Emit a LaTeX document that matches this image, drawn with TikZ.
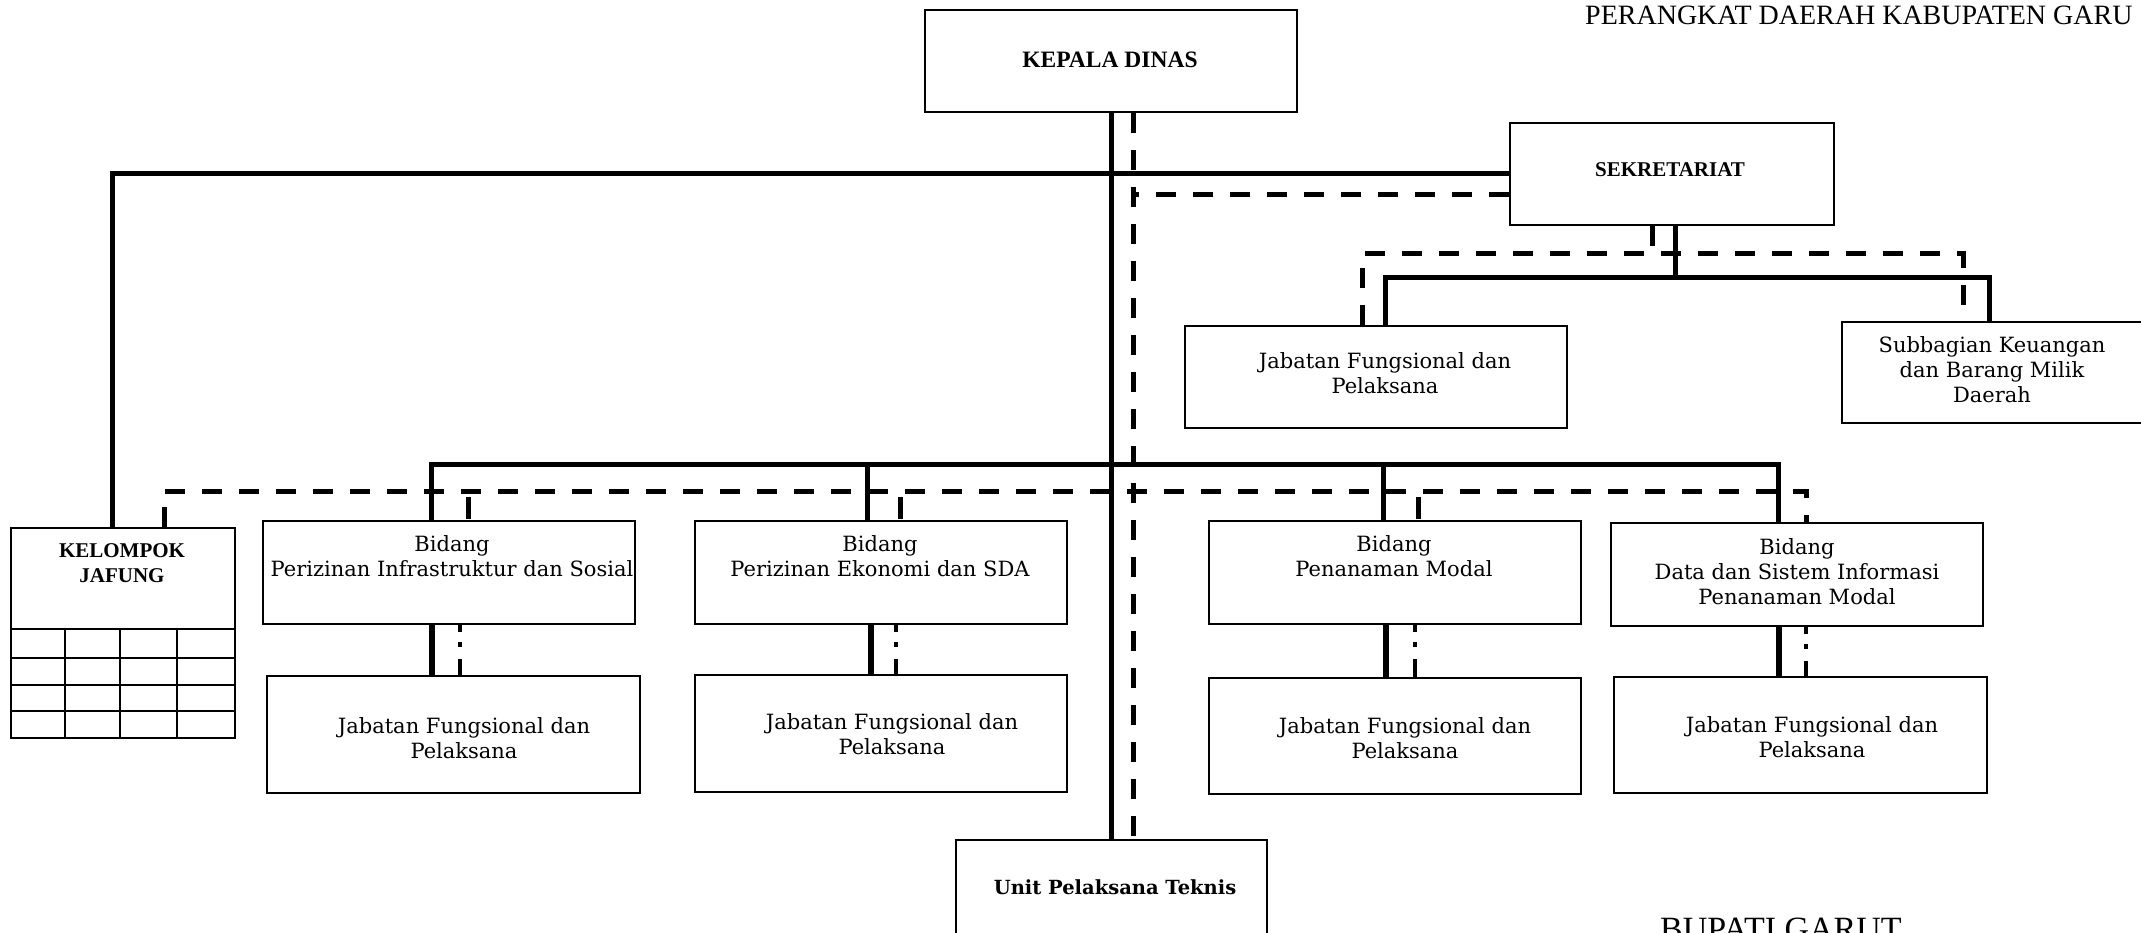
\documentclass[tikz,border=0pt]{standalone}
\usepackage{fontspec}
\setmainfont{DejaVu Serif}
\newfontfamily\tnr{Liberation Serif}
\newfontfamily\bkm{DejaVu Serif}
% box with top-left corner at (#2,#3), width #4, height #5
\newcommand\orgbox[5]{\node[box,minimum width=#4pt,minimum height=#5pt] (#1) at (#2,#3) {};}
\begin{document}
\begin{tikzpicture}[x=1pt,y=-1pt,
  box/.style={draw=black,line width=1.8pt,inner sep=0pt,anchor=north west},
  conn/.style={line width=5pt},
  link/.style={line width=5pt,dash pattern=on 20pt off 17pt},
  drop/.style={line width=5pt,dash pattern=on 0pt off 6pt on 22pt off 10pt},
  dashdot/.style={line width=4.5pt,dash pattern=on 7pt off 10pt on 5pt off 12pt on 40pt},
  heavy/.style={line width=6pt},
  grid/.style={line width=1.8pt},
  body/.style={inner sep=0pt,align=center,anchor=north,font=\bkm\fontsize{21}{25}\selectfont},
  head/.style={inner sep=0pt,align=center,font=\tnr\bfseries\fontsize{21}{25}\selectfont},
]
\fill[white] (0,0) rectangle (2141,933);
\useasboundingbox (0,0) rectangle (2141,933);

% ---- boxes
\orgbox{kd}{924}{9}{372}{102}
\orgbox{sek}{1509}{122}{324}{102}
\orgbox{jfs}{1184}{325}{382}{102}
\orgbox{keu}{1841}{321}{330}{101}
\orgbox{kj}{10}{527}{224}{210}
\orgbox{b1}{262}{520}{372}{103}
\orgbox{b2}{694}{520}{372}{103}
\orgbox{b3}{1208}{520}{372}{103}
\orgbox{b4}{1610}{522}{372}{103}
\orgbox{j1}{266}{675}{373}{117}
\orgbox{j2}{694}{674}{372}{117}
\orgbox{j3}{1208}{677}{372}{116}
\orgbox{j4}{1613}{676}{373}{116}
\orgbox{upt}{955}{839}{311}{96}

% grid under KELOMPOK JAFUNG
\foreach \y in {629,658,685,711} \draw[grid] (10,\y) -- (234,\y);
\foreach \x in {65,120,177} \draw[grid] (\x,629) -- (\x,737);

% ---- reference coordinates for the connector runs
\coordinate (xs) at (1111,0);
\coordinate (xd) at (1133,0);
\coordinate (xk) at (112,0);
\coordinate (xkd) at (164,0);
\coordinate (ysl) at (0,195);
\coordinate (yb) at (0,464);
\coordinate (ydb) at (0,491);
\coordinate (x1) at (431,0);
\coordinate (x2) at (867,0);
\coordinate (x3) at (1383,0);
\coordinate (x4) at (1778,0);
\coordinate (xd1) at (468,0);
\coordinate (xd2) at (900,0);
\coordinate (xd3) at (1418,0);
\coordinate (xd4) at (1806,0);
\coordinate (s1) at (432,0);
\coordinate (s2) at (871,0);
\coordinate (s3) at (1386,0);
\coordinate (s4) at (1779,0);
\coordinate (d1) at (460,0);
\coordinate (d2) at (896,0);
\coordinate (d3) at (1415,0);
\coordinate (d4) at (1806,0);
\coordinate (ss) at (1675,0);
\coordinate (sd) at (1652,0);
\coordinate (sl) at (1385,0);
\coordinate (sr) at (1989,0);
\coordinate (dl) at (1362,0);
\coordinate (dr) at (1963,0);
\coordinate (ysb) at (0,278);
\coordinate (ysd) at (0,254);

% ---- main spine
\draw[conn] (kd.south -| xs) -- (upt.north -| xs);
\draw[link] (kd.south -| xd) -- (upt.north -| xd);

% sekretariat and kelompok jafung
\draw[conn] (kj.north -| xk) |- (sek.west);
\draw[link] (sek.west |- ysl) -- (xd |- ysl);

% bidang bus (solid)
\draw[conn] (b1.north -| x1) |- (yb -| x4) -- (b4.north -| x4);
\draw[conn] (yb -| x2) -- (b2.north -| x2);
\draw[conn] (yb -| x3) -- (b3.north -| x3);

% bidang bus (dashed)
\draw[link] (kj.north -| xkd) |- (ydb -| xd4) -- (b4.north -| xd4);
\draw[drop] (ydb -| xd1) -- (b1.north -| xd1);
\draw[drop] (ydb -| xd2) -- (b2.north -| xd2);
\draw[drop] (ydb -| xd3) -- (b3.north -| xd3);

% bidang to jabatan fungsional
\draw[heavy] (b1.south -| s1) -- (j1.north -| s1);
\draw[heavy] (b2.south -| s2) -- (j2.north -| s2);
\draw[heavy] (b3.south -| s3) -- (j3.north -| s3);
\draw[heavy] (b4.south -| s4) -- (j4.north -| s4);
\draw[dashdot] (b1.south -| d1) -- (j1.north -| d1);
\draw[dashdot] (b2.south -| d2) -- (j2.north -| d2);
\draw[dashdot] (b3.south -| d3) -- (j3.north -| d3);
\draw[dashdot] (b4.south -| d4) -- (j4.north -| d4);

% sekretariat subtree
\draw[conn] (sek.south -| ss) -- (ysb -| ss);
\draw[conn] (jfs.north -| sl) |- (ysb -| sr) -- (keu.north -| sr);
\draw[link] (sek.south -| sd) -- (ysd -| sd);
\draw[link] (jfs.north -| dl) |- (ysd -| dr) -- (keu.north -| dr);

% ---- texts
\node[head,font=\tnr\bfseries\fontsize{23.5}{27}\selectfont] (tkd) at (1110,60) {KEPALA DINAS};
\node[head] (tsek) at (1670,170) {SEKRETARIAT};
\node[head,anchor=north] (tkj) at (122,543) {KELOMPOK\\JAFUNG};
\node[body] (tb1) at (452,535) {Bidang\\Perizinan Infrastruktur dan Sosial};
\node[body] (tb2) at (880,535) {Bidang\\Perizinan Ekonomi dan SDA};
\node[body] (tb3) at (1394,535) {Bidang\\Penanaman Modal};
\node[body] (tb4) at (1797,538) {Bidang\\Data dan Sistem Informasi\\Penanaman Modal};
\node[body] (tj1) at (464,717) {Jabatan Fungsional dan\\Pelaksana};
\node[body] (tj2) at (892,713) {Jabatan Fungsional dan\\Pelaksana};
\node[body] (tj3) at (1405,717) {Jabatan Fungsional dan\\Pelaksana};
\node[body] (tj4) at (1812,716) {Jabatan Fungsional dan\\Pelaksana};
\node[body] (tjfs) at (1385,352) {Jabatan Fungsional dan\\Pelaksana};
\node[body] (tkeu) at (1992,336) {Subbagian Keuangan\\dan Barang Milik\\Daerah};
\node[inner sep=0pt,font=\bkm\bfseries\fontsize{19.5}{23}\selectfont] (tupt) at (1115,887) {Unit Pelaksana Teknis};
\node[inner sep=0pt,anchor=base west,font=\tnr\fontsize{28}{32}\selectfont] (ttop) at (1585,25) {PERANGKAT DAERAH KABUPATEN GARU};
\node[inner sep=0pt,anchor=base west,font=\tnr\fontsize{34}{38}\selectfont] (tbup) at (1660,940) {BUPATI GARUT};
\end{tikzpicture}
\end{document}
